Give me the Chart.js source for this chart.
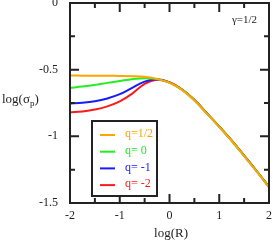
<!DOCTYPE html>
<html>
<head>
<meta charset="utf-8">
<script src="https://cdn.jsdelivr.net/npm/chart.js@4/dist/chart.umd.min.js"></script>
<style>
html,body{margin:0;padding:0;background:#fff;}
#wrap{width:273px;height:241px;position:relative;}
</style>
</head>
<body>
<div id="wrap"><canvas id="c"></canvas></div>
<script>
// ---- data ----
const logR = [-2, -1.75, -1.5, -1.25, -1, -0.75, -0.5, -0.25, 0, 0.25, 0.5, 0.75, 1, 1.25, 1.5, 1.75, 2];
const qHalf  = [-0.544, -0.545, -0.545, -0.546, -0.547, -0.549, -0.554, -0.569, -0.598, -0.652, -0.731, -0.830, -0.930, -1.035, -1.148, -1.263, -1.382];
const qZero  = [-0.636, -0.627, -0.614, -0.599, -0.585, -0.571, -0.564, -0.571, -0.597, -0.650, -0.729, -0.828, -0.928, -1.033, -1.146, -1.261, -1.380];
const qM1    = [-0.753, -0.748, -0.737, -0.716, -0.684, -0.636, -0.590, -0.572, -0.595, -0.649, -0.727, -0.827, -0.927, -1.032, -1.145, -1.260, -1.379];
const qM2    = [-0.820, -0.813, -0.799, -0.775, -0.738, -0.680, -0.606, -0.575, -0.594, -0.648, -0.726, -0.826, -0.926, -1.031, -1.144, -1.259, -1.378];
const seriesLabels = ['q=1/2', 'q= 0', 'q= -1', 'q= -2'];
const seriesColors = ['#ffa500', '#22ee22', '#1a1aff', '#ff1a1a'];
const xTickLabels = [-2, -1, 0, 1, 2];
const xMinorTicks = [-1.5, -0.5, 0.5, 1.5];
const yTickLabels = [0, -0.5, -1, -1.5];
const yMinorTicks = [-0.25, -0.75, -1.25];
const annotation = 'γ=1/2';

const SERIF = '"Liberation Serif", "DejaVu Serif", serif';
const INK = '#222';

const seriesData = [qHalf, qZero, qM1, qM2];
const datasets = seriesData.map((arr, i) => ({
  label: seriesLabels[i],
  data: logR.map((x, k) => ({x: x, y: arr[k]})),
  borderColor: seriesColors[i],
  backgroundColor: seriesColors[i],
  borderWidth: 2,
  pointRadius: 0,
  fill: false,
  tension: 0.35
}));

function noPad(s) { s.paddingTop = 0; s.paddingBottom = 0; s.paddingLeft = 0; s.paddingRight = 0; }

const framePlugin = {
  id: 'frame',
  afterDatasetsDraw(chart) {
    const ctx = chart.ctx, a = chart.chartArea;
    const xs = chart.scales.x, ys = chart.scales.y;
    ctx.save();
    ctx.strokeStyle = INK;
    ctx.lineWidth = 2;
    ctx.strokeRect(a.left, a.top, a.right - a.left, a.bottom - a.top);
    const major = 9, minor = 5;
    ctx.beginPath();
    xTickLabels.concat(xMinorTicks).forEach(v => {
      const len = xTickLabels.includes(v) ? major : minor;
      const px = xs.getPixelForValue(v);
      ctx.moveTo(px, a.bottom); ctx.lineTo(px, a.bottom - len);
      ctx.moveTo(px, a.top); ctx.lineTo(px, a.top + len);
    });
    yTickLabels.concat(yMinorTicks).forEach(v => {
      const len = yTickLabels.includes(v) ? major : minor;
      const py = ys.getPixelForValue(v);
      ctx.moveTo(a.left, py); ctx.lineTo(a.left + len, py);
      ctx.moveTo(a.right, py); ctx.lineTo(a.right - len, py);
    });
    ctx.stroke();

    // legend box
    const lx = a.left + 22, ly = 121, lw = 65, lh = 75;
    ctx.fillStyle = '#fff';
    ctx.fillRect(lx, ly, lw, lh);
    ctx.strokeRect(lx, ly, lw, lh);
    ctx.font = '12px ' + SERIF;
    ctx.textBaseline = 'middle';
    ctx.textAlign = 'left';
    chart.data.datasets.forEach((ds, i) => {
      const y = ly + 14 + i * 16.7;
      ctx.strokeStyle = ds.borderColor;
      ctx.lineWidth = 2;
      ctx.beginPath();
      ctx.moveTo(lx + 8, y); ctx.lineTo(lx + 23, y);
      ctx.stroke();
      ctx.fillStyle = ds.borderColor;
      ctx.fillText(ds.label, lx + 33, y - 1);
    });

    // annotation
    ctx.fillStyle = INK;
    ctx.textAlign = 'right';
    ctx.textBaseline = 'alphabetic';
    ctx.font = '11px ' + SERIF;
    ctx.fillText(annotation, a.right - 12, 23);

    // axis titles
    ctx.font = '13px ' + SERIF;
    ctx.textAlign = 'center';
    ctx.fillText('log(R)', (a.left + a.right) / 2 + 1.5, 237);
    ctx.textAlign = 'left';
    let x = 2;
    const base = 103;
    ctx.fillText('log(σ', x, base);
    x += ctx.measureText('log(σ').width;
    ctx.font = '9px ' + SERIF;
    ctx.fillText('p', x, base + 3);
    x += ctx.measureText('p').width;
    ctx.font = '13px ' + SERIF;
    ctx.fillText(')', x, base);
    ctx.restore();
  }
};

new Chart(document.getElementById('c'), {
  type: 'line',
  data: { datasets: datasets },
  plugins: [framePlugin],
  options: {
    responsive: true,
    maintainAspectRatio: false,
    animation: false,
    layout: { autoPadding: false, padding: { top: 3, right: 4, left: 0, bottom: 0 } },
    plugins: { legend: { display: false }, tooltip: { enabled: false }, title: { display: false } },
    scales: {
      x: {
        type: 'linear', min: -2, max: 2,
        afterBuildTicks(s) { s.ticks = xTickLabels.map(v => ({value: v})); },
        afterFit(s) { s.height = 38; noPad(s); },
        grid: { display: false, drawTicks: false },
        border: { display: false },
        ticks: { padding: 6, color: INK, font: { family: SERIF, size: 12 }, maxRotation: 0,
          callback: v => String(v) }
      },
      y: {
        type: 'linear', min: -1.5, max: 0,
        afterBuildTicks(s) { s.ticks = yTickLabels.map(v => ({value: v})); },
        afterFit(s) { s.width = 70; noPad(s); },
        grid: { display: false, drawTicks: false },
        border: { display: false },
        ticks: { padding: 12, color: INK, font: { family: SERIF, size: 12 },
          callback: v => String(v) }
      }
    }
  }
});
</script>
</body>
</html>
